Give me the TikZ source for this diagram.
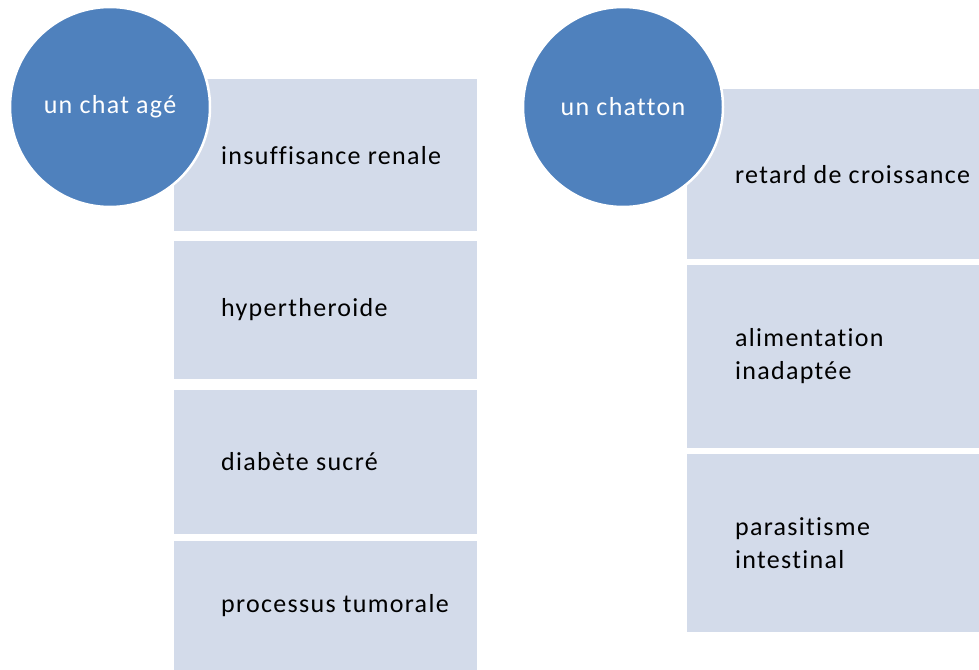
\documentclass[tikz,border=0pt]{standalone}
\usepackage{fontspec}
\setmainfont[Ligatures=NoCommon,LetterSpace=5]{Carlito}
\usetikzlibrary{positioning}
\definecolor{bleurond}{HTML}{4F81BD}
\definecolor{bleucase}{HTML}{D3DBEA}

\begin{document}
\begin{tikzpicture}[x=1pt,y=-1pt,
  case/.style={fill=bleucase,inner sep=0pt,anchor=north west},
  texte/.style={font=\fontsize{26}{33}\selectfont,align=left,inner sep=0pt},
  rond/.style={circle,fill=bleurond,draw=white,line width=2.5pt,minimum size=200pt,
    text=white,font=\fontsize{26}{33}\selectfont}]

	\useasboundingbox (0,0) rectangle (979,669);

	%Cases a gauche
    \node[case,minimum width=303pt,minimum height=152pt] (insuffisance) at (174,79) {};
    \node[case,minimum width=303pt,minimum height=138pt,below=9pt of insuffisance] (hyper) {};
    \node[case,minimum width=303pt,minimum height=144pt,below=11pt of hyper] (diabete) {};
    \node[case,minimum width=303pt,minimum height=129pt,below=7pt of diabete] (tumeur) {};

	%Cases a droite
    \node[case,minimum width=292pt,minimum height=170pt] (retard) at (687,89) {};
    \node[case,minimum width=292pt,minimum height=183pt,below=5pt of retard] (alimentation) {};
    \node[case,minimum width=292pt,minimum height=178pt,below=6pt of alimentation] (parasite) {};

	%Textes
    \node[texte,right=47pt of insuffisance.west] (insuffisance_txt) {insuffisance renale};
    \node[texte,right=47pt of hyper.west] (hyper_txt) {hypertheroide};
    \node[texte,right=47pt of diabete.west] (diabete_txt) {diabète sucré};
    \node[texte,right=47pt of tumeur.west] (tumeur_txt) {processus tumorale};
    \node[texte,right=48pt of retard.west] (retard_txt) {retard de croissance};
    \node[texte,right=48pt of alimentation.west] (alimentation_txt) {alimentation\\inadaptée};
    \node[texte,right=48pt of parasite.west] (parasite_txt) {parasitisme\\intestinal};

	%Ronds
    \node[rond] (vieux) at (110,107) {un chat agé};
    \node[rond] (chaton) at (623,107) {un chatton};

\end{tikzpicture}
\end{document}
